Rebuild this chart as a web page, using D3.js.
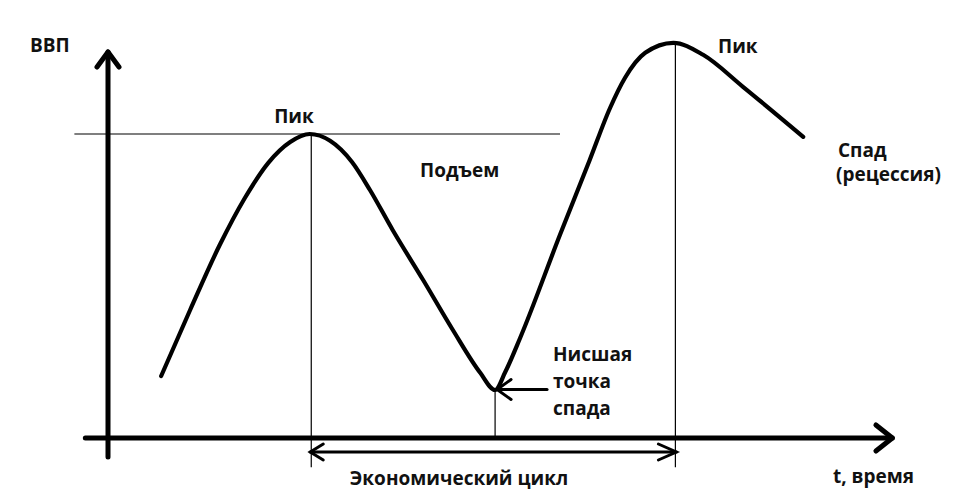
<!DOCTYPE html>
<html><head><meta charset="utf-8">
<script src="https://cdn.jsdelivr.net/npm/d3@7"></script>
<style>
html,body{margin:0;padding:0;background:#fff;}
svg text{font-family:"Open Sans","Noto Sans",sans-serif;font-weight:bold;fill:#111;}
</style></head>
<body>
<svg id="chart" width="955" height="503"></svg>
<script>
// Business cycle curve (time units 0..100, GDP units 0..100)
const timeValues = [6.8, 10.5, 14.3, 17.5, 20.5, 23.3, 25.8, 28.4, 31.2, 33.5, 36.4, 40.3, 44.1, 47.6, 49.5, 50.8, 52.7, 57.8, 61.6, 64.2, 66.1, 68.7, 72.3, 76.1, 81.2, 88.9];
const gdpValues  = [15.5, 32.0, 48.3, 60.0, 68.8, 74.0, 76.0, 74.3, 69.0, 62.0, 52.0, 39.5, 27.0, 16.3, 12.0, 16.5, 25.0, 50.8, 69.5, 82.5, 90.0, 96.3, 98.8, 95.8, 87.8, 75.3];
// key points: index of first peak, trough, second peak
const keyIndex = [6, 14, 22];
const labels = ["ВВП", "Пик", "Подъем", "Пик", "Спад", "(рецессия)", "Нисшая", "точка", "спада", "Экономический цикл", "t, время"];

const svg = d3.select("#chart");
const x = d3.scaleLinear().domain([0, 100]).range([108, 890]);
const y = d3.scaleLinear().domain([0, 100]).range([438, 38]);
const pts = timeValues.map((t, i) => [t, gdpValues[i]]);
const peak1 = pts[keyIndex[0]], trough = pts[keyIndex[1]], peak2 = pts[keyIndex[2]];

// thin reference lines
const thin = svg.append("g").attr("stroke", "#000").attr("stroke-width", 1.2);
thin.append("line").attr("x1", x(-4.3)).attr("x2", x(57.8)).attr("y1", y(peak1[1])).attr("y2", y(peak1[1]));
thin.append("line").attr("x1", x(peak1[0]) + 1.5).attr("x2", x(peak1[0]) + 1.5).attr("y1", y(peak1[1])).attr("y2", y(-7.3));
thin.append("line").attr("x1", x(trough[0])).attr("x2", x(trough[0])).attr("y1", y(trough[1])).attr("y2", y(0));
thin.append("line").attr("x1", x(peak2[0]) + 2).attr("x2", x(peak2[0]) + 2).attr("y1", y(peak2[1])).attr("y2", y(-7.3));

// axes
const ax = svg.append("g").attr("stroke", "#000").attr("stroke-width", 5).attr("stroke-linecap", "round").attr("stroke-linejoin", "round").attr("fill", "none");
ax.append("line").attr("x1", x(0)).attr("x2", x(0)).attr("y1", y(-4.75)).attr("y2", y(96.5));
ax.append("path").attr("d", `M${x(0)-11},${y(92.75)} L${x(0)},${y(96.5)} L${x(0)+11},${y(92.75)}`);
ax.append("line").attr("x1", x(-2.9)).attr("x2", x(100.3)).attr("y1", y(0)).attr("y2", y(0));
ax.append("path").attr("d", `M${x(98.2)},${y(0)-13} L${x(100.3)},${y(0)} L${x(98.2)},${y(0)+13}`);

// cycle curve
const line = d3.line().x(d => x(d[0])).y(d => y(d[1])).curve(d3.curveMonotoneX);
svg.append("path").datum(pts).attr("d", line)
  .attr("fill", "none").attr("stroke", "#000").attr("stroke-width", 4.2).attr("stroke-linecap", "round");

// economic cycle double arrow
const cy = y(-3.5);
const x1 = x(peak1[0]) + 0.5, x2 = x(peak2[0]) + 3;
const da = svg.append("g").attr("stroke", "#000").attr("stroke-width", 3).attr("fill", "none").attr("stroke-linecap", "round");
da.append("line").attr("x1", x1).attr("x2", x2).attr("y1", cy).attr("y2", cy);
da.append("path").attr("d", `M${x1+13},${cy-8} L${x1},${cy} L${x1+13},${cy+8}`);
da.append("path").attr("d", `M${x2-18},${cy-8} L${x2},${cy} L${x2-18},${cy+8}`);

// trough pointer
const tx = x(trough[0]) + 2, ty = y(trough[1]) - 0.5;
const tp = svg.append("g").attr("stroke", "#000").attr("stroke-width", 3).attr("fill", "none").attr("stroke-linecap", "round");
tp.append("line").attr("x1", tx).attr("x2", tx + 50).attr("y1", ty).attr("y2", ty);
tp.append("path").attr("d", `M${tx+14},${ty-10} L${tx},${ty} L${tx+14},${ty+10}`);

// text labels
const txt = (s, px, py, anchor, size) => svg.append("text").attr("x", px).attr("y", py)
  .attr("text-anchor", anchor || "start").attr("font-size", size || 19).text(s);
txt(labels[0], 30, 52, "start", 19);
txt(labels[1], 294, 123, "middle", 19);
txt(labels[2], 420, 177, "start", 19);
txt(labels[3], 718, 53, "start", 19);
txt(labels[4], 838, 157, "start", 19);
txt(labels[5], 836, 181, "start", 19);
txt(labels[6], 553, 361, "start", 19);
txt(labels[7], 553, 388, "start", 19);
txt(labels[8], 553, 415, "start", 19);
txt(labels[9], 459, 485, "middle", 19);
txt(labels[10], 833, 483, "start", 19);
</script>
</body></html>
